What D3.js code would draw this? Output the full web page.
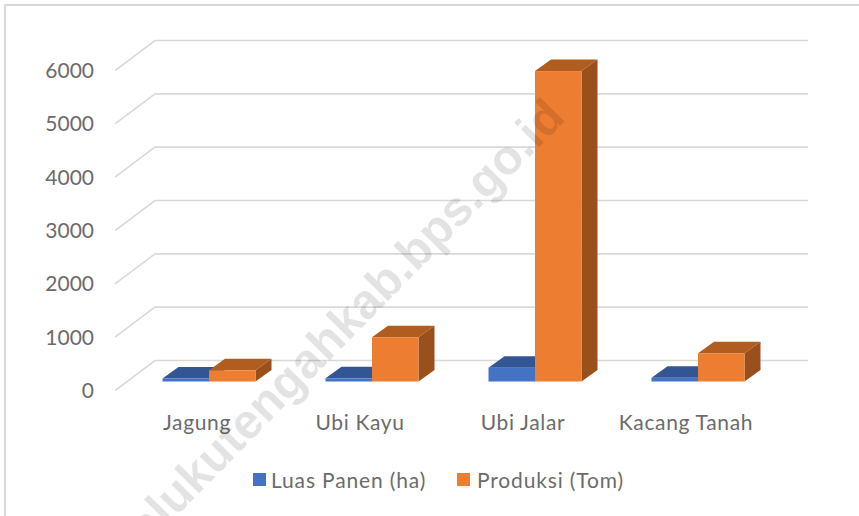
<!DOCTYPE html>
<html>
<head>
<meta charset="utf-8">
<script src="https://cdn.jsdelivr.net/npm/d3@7"></script>
<style>
  html, body { margin: 0; padding: 0; background: #fff; }
  text { font-family: Lato, "Open Sans", sans-serif; }
</style>
</head>
<body>
<svg id="chart" width="859" height="516"></svg>
<script>
const categories = ["Jagung", "Ubi Kayu", "Ubi Jalar", "Kacang Tanah"];
const seriesNames = ["Luas Panen (ha)", "Produksi (Tom)"];
const luasPanen = [55, 60, 260, 70];
const produksi = [210, 830, 5820, 530];
const yTicks = [0, 1000, 2000, 3000, 4000, 5000, 6000];
const watermark = "malukutengahkab.bps.go.id";

const colors = [
  { front: "#4472c4", top: "#335593", side: "#2b4a80" },
  { front: "#ed7d31", top: "#b15d20", side: "#9a501c" },
];

const width = 859, height = 516;
const svg = d3.select("#chart");

// frame of the chart area
svg.append("path")
  .attr("d", `M5,${height} V5 H${width}`)
  .attr("fill", "none")
  .attr("stroke", "#d9d9d9")
  .attr("stroke-width", 2);

// value scales, one for the back wall grid and one for the bars
const yBack = d3.scaleLinear().domain([0, 6000]).range([360.5, 40.5]);
const yBar = d3.scaleLinear().domain([0, 6000]).range([381.5, 61.5]);
const depthX = 40, depthY = 30;
const barDx = 16, barDy = 11.5;

const x0 = d3.scaleBand().domain(categories).range([127.5, 779.5]);
const barW = 46.5;

// gridlines with the floor/wall bend
svg.append("g").selectAll("path")
  .data(yTicks)
  .enter()
  .append("path")
  .attr("d", (d) => {
    const y = yBack(d);
    return `M${155 - depthX},${y + depthY} L155,${y} H808`;
  })
  .attr("fill", "none")
  .attr("stroke", "#d9d9d9")
  .attr("stroke-width", 1.6);

// y labels
svg.append("g").selectAll("text")
  .data(yTicks)
  .enter()
  .append("text")
  .attr("x", 94)
  .attr("y", (d) => yBack(d) + 30)
  .attr("dy", "0.36em")
  .attr("text-anchor", "end")
  .attr("font-size", 21)
  .attr("fill", "#6b6b6b")
  .text((d) => d);

// bars
const groups = svg.append("g").selectAll("g")
  .data(categories)
  .enter()
  .append("g");

function drawBar(g, value, i, cx) {
  const c = colors[i];
  const xl = cx + (i - 1) * barW;
  const xr = xl + barW;
  const yt = yBar(value);
  const yb = yBar(0);
  g.append("path")
    .attr("d", `M${xl},${yt} L${xl + barDx},${yt - barDy} H${xr + barDx} L${xr},${yt} Z`)
    .attr("fill", c.top);
  g.append("path")
    .attr("d", `M${xr},${yt} L${xr + barDx},${yt - barDy} V${yb - barDy} L${xr},${yb} Z`)
    .attr("fill", c.side);
  g.append("rect")
    .attr("x", xl)
    .attr("y", yt)
    .attr("width", barW)
    .attr("height", yb - yt)
    .attr("fill", c.front);
}

groups.each(function (d, k) {
  const g = d3.select(this);
  const cx = x0(d) + x0.bandwidth() / 2;
  drawBar(g, luasPanen[k], 0, cx);
  drawBar(g, produksi[k], 1, cx);
});

// category labels
svg.append("g").selectAll("text")
  .data(categories)
  .enter()
  .append("text")
  .attr("x", (d) => x0(d) + x0.bandwidth() / 2 - 12)
  .attr("y", 422)
  .attr("dy", "0.36em")
  .attr("text-anchor", "middle")
  .attr("font-size", 21)
  .attr("letter-spacing", 0.65)
  .attr("fill", "#6b6b6b")
  .text((d) => d);

// legend
const legendX = [253, 457];
const legend = svg.append("g").selectAll("g")
  .data(seriesNames)
  .enter()
  .append("g")
  .attr("transform", (d, i) => `translate(${legendX[i]},473)`);
legend.append("rect")
  .attr("width", 13)
  .attr("height", 13)
  .attr("fill", (d, i) => colors[i].front);
legend.append("text")
  .attr("x", (d, i) => (i ? 20 : 18))
  .attr("y", 7)
  .attr("dy", "0.36em")
  .attr("font-size", 21)
  .attr("letter-spacing", 0.85)
  .attr("fill", "#6b6b6b")
  .text((d) => d);

// watermark over everything
svg.append("text")
  .attr("transform", "translate(567,119) rotate(-45.5)")
  .attr("text-anchor", "end")
  .attr("font-size", 48.5)
  .attr("font-weight", "bold")
  .attr("fill", "#000")
  .attr("fill-opacity", 0.11)
  .style("font-family", "'Liberation Sans', sans-serif")
  .text(watermark);
</script>
</body>
</html>
